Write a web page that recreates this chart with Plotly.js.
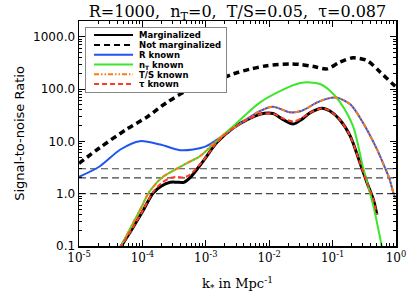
<!DOCTYPE html>
<html><head><meta charset="utf-8">
<script src="https://cdn.plot.ly/plotly-3.0.1.min.js"></script>
<style>html,body{margin:0;padding:0;background:#fff}#chart{width:407px;height:296px}</style>
</head><body><div id="chart"></div>
<script>
// ---- data ----
const seriesNames = ['Marginalized', 'Not marginalized', 'R known', 'n<sub>T</sub> known', 'T/S known', 'τ known'];

const kMarg   = [4.4e-5, 7.0e-5, 1.0e-4, 1.48e-4, 2.0e-4, 2.75e-4, 3.5e-4, 4.5e-4, 5.6e-4, 9.1e-4, 1.48e-3, 2.7e-3, 4.5e-3, 7.1e-3, 1.15e-2, 1.66e-2, 2.4e-2, 3.2e-2, 4.4e-2, 6.8e-2, 9.1e-2, 0.13, 0.19, 0.27, 0.35, 0.44, 0.50];
const snrMarg = [0.09, 0.22, 0.45, 1.03, 1.4, 1.65, 1.66, 1.65, 2.0, 4.2, 9.4, 18, 26, 33, 34, 26, 21.5, 26, 35, 43, 38, 26, 12.6, 3.9, 1.6, 0.77, 0.40];

const kNotMarg   = [1.0e-5, 2.14e-5, 5.6e-5, 1.17e-4, 2.4e-4, 5.0e-4, 8.1e-4, 1.29e-3, 2.7e-3, 5.0e-3, 9.3e-3, 2.1e-2, 3.1e-2, 5.0e-2, 8.1e-2, 0.13, 0.21, 0.35, 0.56, 0.89, 1.0];
const snrNotMarg = [3.8, 7.6, 17, 29, 55, 93, 115, 137, 195, 240, 280, 302, 295, 270, 243, 326, 395, 350, 212, 125, 110];

const kR   = [1.0e-5, 2.14e-5, 4.5e-5, 9.1e-5, 1.9e-4, 3.9e-4, 6.3e-4, 1.02e-3, 1.66e-3, 3.5e-3, 7.1e-3, 1.15e-2, 2.1e-2, 3.2e-2, 5.6e-2, 8.0e-2, 0.115, 0.19, 0.30, 0.50, 0.68, 0.78, 0.92, 1.0];
const snrR = [2.1, 3.35, 7.0, 10.1, 8.7, 6.8, 7.0, 8.1, 11.7, 22, 38, 46, 36, 38, 55, 65, 69, 51, 23, 7.1, 3.0, 2.0, 1.0, 0.8];

const kNT   = [4.4e-5, 1.0e-4, 1.23e-4, 2.0e-4, 3.5e-4, 5.6e-4, 8.1e-4, 1.48e-3, 3.5e-3, 7.1e-3, 1.9e-2, 3.1e-2, 4.4e-2, 6.3e-2, 9.1e-2, 0.13, 0.21, 0.30, 0.44, 0.60];
const snrNT = [0.09, 0.6, 1.0, 2.0, 3.0, 4.1, 5.2, 10, 26, 55, 105, 130, 134, 125, 93, 57, 19.5, 3.3, 0.58, 0.095];

const kTS   = [4.4e-5, 1.0e-4, 1.23e-4, 2.0e-4, 3.5e-4, 5.6e-4, 8.1e-4, 1.48e-3, 3.5e-3, 7.1e-3, 1.15e-2, 2.1e-2, 3.2e-2, 5.6e-2, 8.0e-2, 0.115, 0.19, 0.30, 0.50, 0.68, 0.78, 0.92, 1.0];
const snrTS = [0.09, 0.6, 1.0, 2.0, 3.0, 4.1, 5.2, 10.5, 22, 38, 46, 36, 38, 55, 65, 69, 51, 23, 7.1, 3.0, 2.0, 1.0, 0.8];

const kTau   = [4.4e-5, 7.0e-5, 1.0e-4, 1.48e-4, 2.0e-4, 2.75e-4, 3.5e-4, 4.5e-4, 5.6e-4, 9.1e-4, 1.48e-3, 2.7e-3, 4.5e-3, 7.1e-3, 1.15e-2, 1.66e-2, 2.4e-2, 3.2e-2, 4.4e-2, 6.8e-2, 9.1e-2, 0.13, 0.19, 0.27, 0.35, 0.44, 0.50];
const snrTau = [0.09, 0.22, 0.46, 1.08, 1.6, 2.0, 2.1, 2.05, 2.3, 4.3, 9.4, 18, 26, 33, 34, 27.5, 24, 27.5, 35, 43, 38, 26, 12.6, 3.9, 1.6, 0.77, 0.40];

const detectionLevels = [1, 2, 3];
const kSpan = [1e-5, 1];

const xTickVals = [1e-5, 1e-4, 1e-3, 1e-2, 1e-1, 1];
const xTickText = ['10<sup>-5</sup>', '10<sup>-4</sup>', '10<sup>-3</sup>', '10<sup>-2</sup>', '10<sup>-1</sup>', '10<sup>0</sup>'];
const yTickVals = [0.1, 1, 10, 100, 1000];
const yTickText = ['0.1', '1.0', '10.0', '100.0', '1000.0'];
const minorDigits = [2, 3, 4, 5, 6, 7, 8, 9];
const xDecades = [1e-5, 1e-4, 1e-3, 1e-2, 1e-1];
const yDecades = [0.1, 1, 10, 100, 1000];
const xMinor = []; xDecades.forEach(d => minorDigits.forEach(m => xMinor.push(d * m)));
const yMinor = []; yDecades.forEach(d => minorDigits.forEach(m => { if (d * m <= 2000) yMinor.push(d * m); }));

// ---- traces ----
const traces = [];
detectionLevels.forEach(v => traces.push({
  x: kSpan, y: [v, v], mode: 'lines', showlegend: false, hoverinfo: 'skip',
  line: {color: '#444', width: 1.2, dash: '7px,4px'}
}));
traces.push({x: kMarg, y: snrMarg, name: seriesNames[0], mode: 'lines',
  line: {color: '#000', width: 3, shape: 'spline', smoothing: 0.8}});
traces.push({x: kNotMarg, y: snrNotMarg, name: seriesNames[1], mode: 'lines',
  line: {color: '#000', width: 3.5, dash: '6px,4px', shape: 'spline', smoothing: 0.8}});
traces.push({x: kR, y: snrR, name: seriesNames[2], mode: 'lines',
  line: {color: '#1f55f0', width: 2, shape: 'spline', smoothing: 0.8}});
traces.push({x: kNT, y: snrNT, name: seriesNames[3], mode: 'lines',
  line: {color: '#3ce62a', width: 2, shape: 'spline', smoothing: 0.8}});
traces.push({x: kTS, y: snrTS, name: seriesNames[4], mode: 'lines',
  line: {color: '#ff7a14', width: 2, dash: '5px,2px,1.5px,2px,1.5px,2px', shape: 'spline', smoothing: 0.8}});
traces.push({x: kTau, y: snrTau, name: seriesNames[5], mode: 'lines',
  line: {color: '#ff3c1e', width: 2, dash: '5px,3px', shape: 'spline', smoothing: 0.8}});

const axisCommon = {
  type: 'log', showgrid: false, zeroline: false, showline: true, linecolor: '#000', linewidth: 1.5,
  mirror: 'ticks', ticks: 'inside', ticklen: 6, tickwidth: 1, tickcolor: '#000', tickmode: 'array'
};

const layout = {
  width: 407, height: 296,
  margin: {l: 79, r: 11, t: 21, b: 50, pad: 0},
  paper_bgcolor: '#fff', plot_bgcolor: '#fff',
  title: {text: 'R=1000,\u00A0 n<sub>T</sub>=0,\u00A0 T/S=0.05,\u00A0 τ=0.087', x: 0.5, xref: 'paper',
          y: 0.962, yref: 'container', yanchor: 'middle',
          font: {family: 'DejaVu Serif', size: 16, color: '#000'}},
  xaxis: Object.assign({}, axisCommon, {
    range: [-5, 0], tickvals: xTickVals, ticktext: xTickText,
    tickfont: {family: 'DejaVu Serif', size: 12, color: '#000'},
    minor: {tickmode: 'array', tickvals: xMinor, ticks: 'inside', ticklen: 3, tickwidth: 1, tickcolor: '#000', showgrid: false},
    title: {text: 'k<sub>*</sub> in Mpc<sup>-1</sup>', standoff: 15, font: {family: 'DejaVu Serif', size: 13, color: '#000'}}
  }),
  yaxis: Object.assign({}, axisCommon, {
    range: [-1, Math.log10(2000)], tickvals: yTickVals, ticktext: yTickText,
    tickfont: {family: 'DejaVu Sans', size: 12, color: '#000'},
    minor: {tickmode: 'array', tickvals: yMinor, ticks: 'inside', ticklen: 3, tickwidth: 1, tickcolor: '#000', showgrid: false},
    title: {text: 'Signal-to-noise Ratio', standoff: 5, font: {family: 'DejaVu Sans', size: 13, color: '#000'}}
  }),
  showlegend: true,
  legend: {x: 0.019, y: 0.973, xanchor: 'left', yanchor: 'top', bgcolor: '#fff',
           bordercolor: '#888', borderwidth: 1, itemwidth: 40, tracegroupgap: 0,
           font: {family: 'DejaVu Sans', size: 8.5, color: '#000', weight: 'bold'}}
};

Plotly.newPlot('chart', traces, layout, {staticPlot: true, displayModeBar: false}).then(gd => {
  // compact the legend rows and lengthen the samples to the reference look
  const leg = gd.querySelector('.legend');
  if (!leg) return;
  const items = leg.querySelectorAll('.traces');
  const rowH = 9.8, top = 8, textX = 53;
  let maxW = 0;
  items.forEach((g, i) => {
    const m = /translate\(([^,]+),/.exec(g.getAttribute('transform') || '');
    const x = m ? m[1] : 1;
    g.setAttribute('transform', 'translate(' + x + ',' + (top + i * rowH).toFixed(1) + ')');
    g.querySelectorAll('.legendlines path').forEach(p => {
      p.setAttribute('d', 'M8,0h39');
      p.style.strokeWidth = '2px';
    });
    const t = g.querySelector('text.legendtext');
    if (t) {
      t.setAttribute('x', textX);
      maxW = Math.max(maxW, t.getBBox().width);
    }
  });
  const bg = leg.querySelector('rect.bg');
  if (bg) {
    bg.setAttribute('height', (2 * top + (items.length - 1) * rowH).toFixed(1));
    bg.setAttribute('width', (textX + maxW + 6).toFixed(1));
  }
});
</script></body></html>
